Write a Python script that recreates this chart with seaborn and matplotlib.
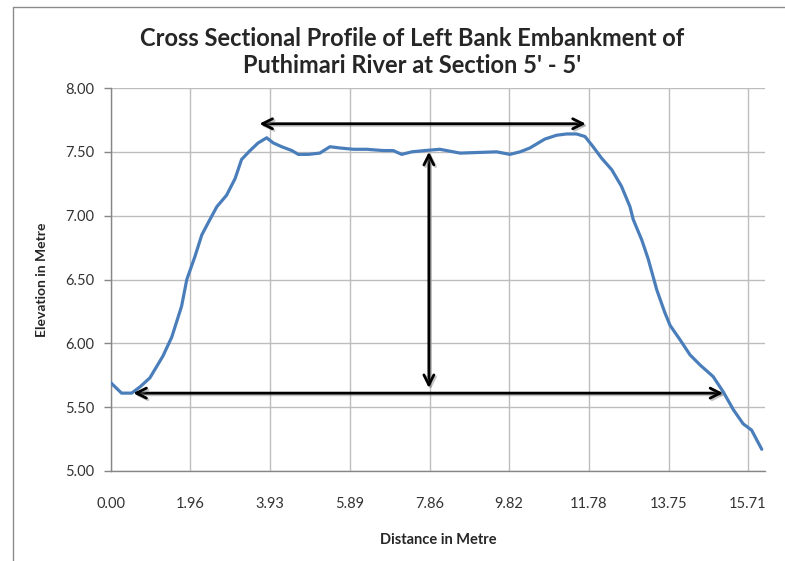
import matplotlib
matplotlib.use("Agg")
import matplotlib.pyplot as plt
import matplotlib.patheffects as pe
import seaborn as sns
import pandas as pd

# ---- data ----
distance = [0.00, 0.26, 0.51, 0.72, 0.96, 1.28, 1.50, 1.74, 1.87, 2.07, 2.24, 2.44, 2.61, 2.85,
            3.06, 3.22, 3.43, 3.63, 3.84, 4.00, 4.21, 4.46, 4.62, 4.87, 5.15, 5.40, 5.65, 5.98,
            6.31, 6.71, 6.96, 7.17, 7.42, 7.74, 8.11, 8.61, 9.51, 9.84, 10.09, 10.33, 10.70,
            10.99, 11.24, 11.48, 11.69, 11.89, 12.10, 12.35, 12.59, 12.80, 12.88, 13.09, 13.25,
            13.46, 13.66, 13.79, 14.03, 14.28, 14.53, 14.85, 15.10, 15.35, 15.59, 15.80, 16.05]
elevation = [5.69, 5.61, 5.61, 5.66, 5.73, 5.90, 6.05, 6.29, 6.50, 6.68, 6.85, 6.97, 7.07, 7.16,
             7.29, 7.44, 7.51, 7.57, 7.61, 7.57, 7.54, 7.51, 7.48, 7.48, 7.49, 7.54, 7.53, 7.52,
             7.52, 7.51, 7.51, 7.48, 7.50, 7.51, 7.52, 7.49, 7.50, 7.48, 7.50, 7.53, 7.60,
             7.63, 7.64, 7.64, 7.62, 7.54, 7.45, 7.36, 7.23, 7.07, 6.97, 6.81, 6.66,
             6.42, 6.24, 6.14, 6.03, 5.91, 5.83, 5.74, 5.62, 5.48, 5.37, 5.32, 5.17]
x_tick_labels = ["0.00", "1.96", "3.93", "5.89", "7.86", "9.82", "11.78", "13.75", "15.71"]
y_ticks = [5.00, 5.50, 6.00, 6.50, 7.00, 7.50, 8.00]

# annotation arrows (data coords): top width, height, base width
top_arrow = ((3.66, 7.72), (11.71, 7.72))
height_arrow = ((7.84, 7.50), (7.84, 5.65))
base_arrow = ((0.55, 5.61), (15.10, 5.61))

title = "Cross Sectional Profile of Left Bank Embankment of\nPuthimari River at Section 5' - 5'"

df = pd.DataFrame({"Distance": distance, "Elevation": elevation})

sns.set_style("white")
plt.rcParams["font.family"] = ["Lato", "DejaVu Sans"]

fig = plt.figure(figsize=(7.85, 5.61), dpi=100)
ax = fig.add_axes([111 / 785, 1 - 471 / 561, (765 - 111) / 785, (471 - 88) / 561])

sns.lineplot(data=df, x="Distance", y="Elevation", ax=ax, sort=False,
             color="#4A7EBB", linewidth=2.3, zorder=3)

xt = [float(s) for s in x_tick_labels]
ax.set_xlim(0, 16.13)
ax.set_ylim(5.0, 8.0)
ax.set_xticks(xt)
ax.set_xticklabels(x_tick_labels)
ax.set_xticks(xt[::2], minor=True)
ax.set_yticks(y_ticks)
ax.set_yticklabels([f"{v:.2f}" for v in y_ticks])
ax.tick_params(axis="x", which="major", length=0, pad=18.5, labelsize=10.5, colors="#333333")
ax.tick_params(axis="x", which="minor", length=5, width=1, color="#868686", direction="out",
               bottom=True)
ax.tick_params(axis="y", which="major", length=5, width=1, color="#868686", direction="out",
               pad=7, labelsize=10.5, left=True, labelcolor="#333333")

ax.grid(True, which="major", axis="both", color="#BDBDBD", linewidth=1)
ax.set_axisbelow(True)
for s in ["top", "right"]:
    ax.spines[s].set_visible(False)
for s in ["left", "bottom"]:
    ax.spines[s].set_color("#868686")
    ax.spines[s].set_linewidth(1)

ax.set_xlabel("Distance in Metre", fontsize=10.5, fontweight="bold", labelpad=16)
ax.set_ylabel("Elevation in Metre", fontsize=10, fontweight="bold", labelpad=12)

for (p0, p1) in (top_arrow, height_arrow, base_arrow):
    ann = ax.annotate("", xy=p1, xytext=p0,
                      arrowprops=dict(arrowstyle="<->", lw=2.0, color="black",
                                      mutation_scale=18, shrinkA=0, shrinkB=0),
                      zorder=4)
    ann.arrow_patch.set_path_effects([
        pe.SimpleLineShadow(offset=(1.2, -1.2), shadow_color="gray", alpha=0.45),
        pe.Normal()])

fig.text(412 / 785, 1 - 52 / 561, title, ha="center", va="center", fontsize=17,
         fontweight="bold", linespacing=1.25)

# chart-area border (left and top edges visible)
fig.add_artist(plt.Line2D([13 / 785, 13 / 785], [0, 1 - 7 / 561], transform=fig.transFigure,
                          color="#8C8C8C", linewidth=1))
fig.add_artist(plt.Line2D([13 / 785, 1], [1 - 7 / 561, 1 - 7 / 561], transform=fig.transFigure,
                          color="#8C8C8C", linewidth=1))

fig.savefig("out.png", dpi=100)
